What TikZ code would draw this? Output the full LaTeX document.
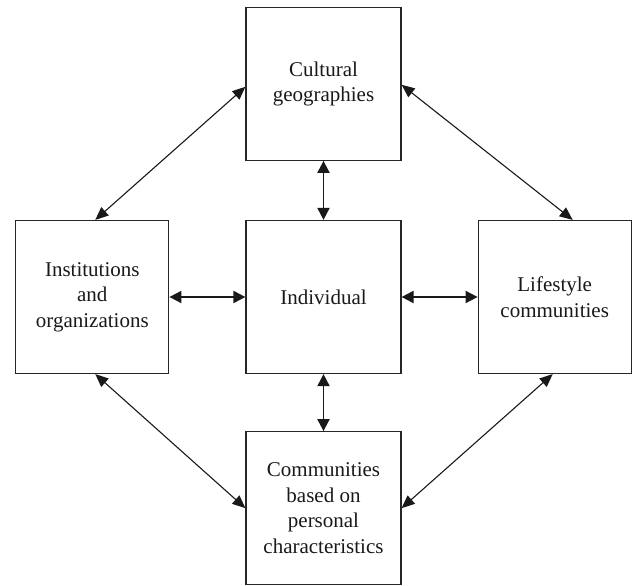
\documentclass[tikz,border=0pt]{standalone}
\usepackage{fontspec}
\setmainfont{Liberation Serif}
\usepackage{tikz}
\usetikzlibrary{arrows.meta,positioning}
\tikzset{
  bx/.style={draw=black!85, line width=1.2pt, align=center, text=black!90,
             font=\fontsize{21}{25.5}\selectfont,
             minimum width=155pt, minimum height=153pt, inner sep=0pt},
  ar/.style={{Triangle[length=12pt,width=12pt]}-{Triangle[length=12pt,width=12pt]},
             draw=black!90, line width=1.9pt},
  dar/.style={{Triangle[length=13pt,width=11pt]}-{Triangle[length=13pt,width=11pt]},
              draw=black!90, line width=1.1pt},
}
\begin{document}
\begin{tikzpicture}[node distance=59pt and 76pt]
  \useasboundingbox (-323.5pt,-289pt) rectangle (308.5pt,297pt);
  \node[bx] (ind) {Individual};
  \node[bx, above=of ind] (geo) {Cultural\\geographies};
  \node[bx, below=57pt of ind] (com) {Communities\\based on\\personal\\characteristics};
  \node[bx, left=of ind, minimum width=153pt] (ins) {Institutions\\and\\organizations};
  \node[bx, right=of ind, minimum width=153pt] (lif) {Lifestyle\\communities};
  \draw[ar] (geo) -- (ind);
  \draw[ar] (ind) -- (com);
  \draw[ar] (ins) -- (ind);
  \draw[ar] (ind) -- (lif);
  \draw[dar] ([xshift=3pt]ins.north) -- ([yshift=-3pt]geo.west);
  \draw[dar] ([yshift=-1pt]geo.east) -- ([xshift=18pt]lif.north);
  \draw[dar] ([xshift=3pt]ins.south) -- (com.west);
  \draw[dar] ([xshift=-2pt]lif.south) -- (com.east);
\end{tikzpicture}
\end{document}
